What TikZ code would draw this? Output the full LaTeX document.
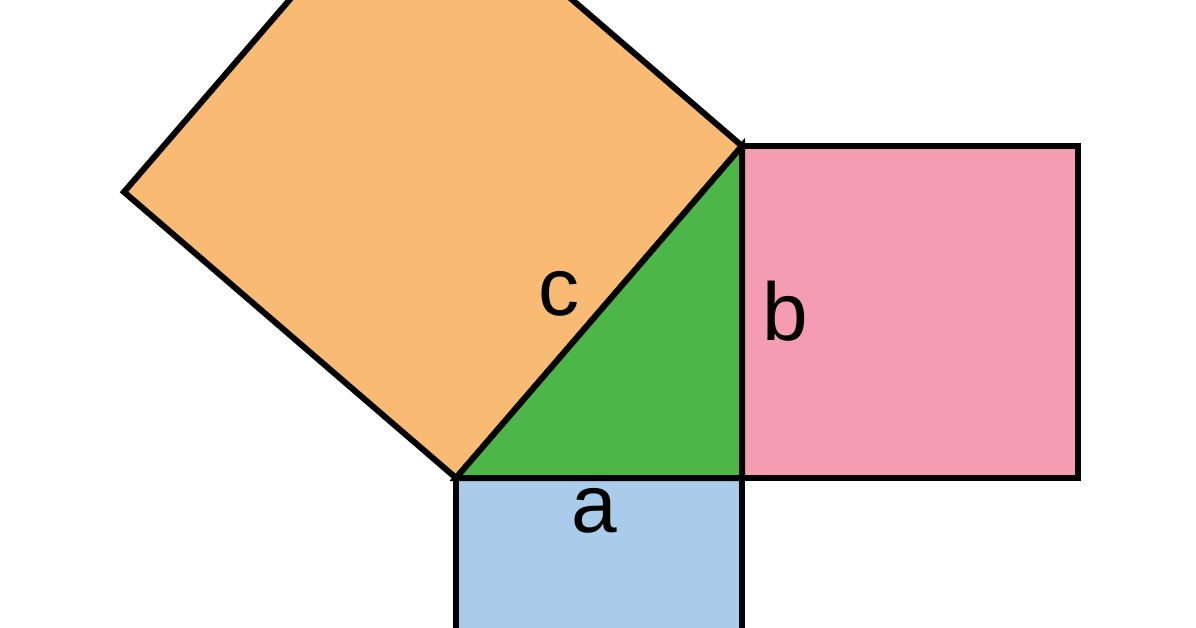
\documentclass[tikz,border=0pt]{standalone}
\usepackage{fontspec}
\setmainfont{Liberation Sans}
\definecolor{sqorange}{RGB}{249,186,116}
\definecolor{trigreen}{RGB}{76,182,72}
\definecolor{sqpink}{RGB}{244,157,178}
\definecolor{sqblue}{RGB}{168,204,234}
\begin{document}
\begin{tikzpicture}[x=1pt,y=-1pt,
  poly/.style={draw=black,line width=6pt,line join=miter},
  lbl/.style={anchor=base,inner sep=0pt,font=\fontsize{82}{90}\selectfont}]
\useasboundingbox (0,0) rectangle (1196,628);
\fill[white] (0,0) rectangle (1196,628);
\clip (0,0) rectangle (1196,628);
% triangle vertices
\coordinate (A) at (456,478);
\coordinate (C) at (742,478);
\coordinate (B) at (742,146);
% square on c
\coordinate (D) at (410,-140);
\coordinate (E) at (124,192);
% square on b
\coordinate (F) at (1078,146);
\coordinate (G) at (1078,478);
% square on a
\coordinate (H) at (742,764);
\coordinate (I) at (456,764);
\draw[poly,fill=sqorange] (A) -- (B) -- (D) -- (E) -- cycle;
\draw[poly,fill=sqpink] (B) -- (F) -- (G) -- (C) -- cycle;
\draw[poly,fill=sqblue] (A) -- (C) -- (H) -- (I) -- cycle;
\draw[poly,fill=trigreen] (A) -- (C) -- (B) -- cycle;
\node[lbl] (lc) at (559,315) {c};
\node[lbl] (lb) at (785,340) {b};
\node[lbl] (la) at (594,532) {a};
\end{tikzpicture}
\end{document}
